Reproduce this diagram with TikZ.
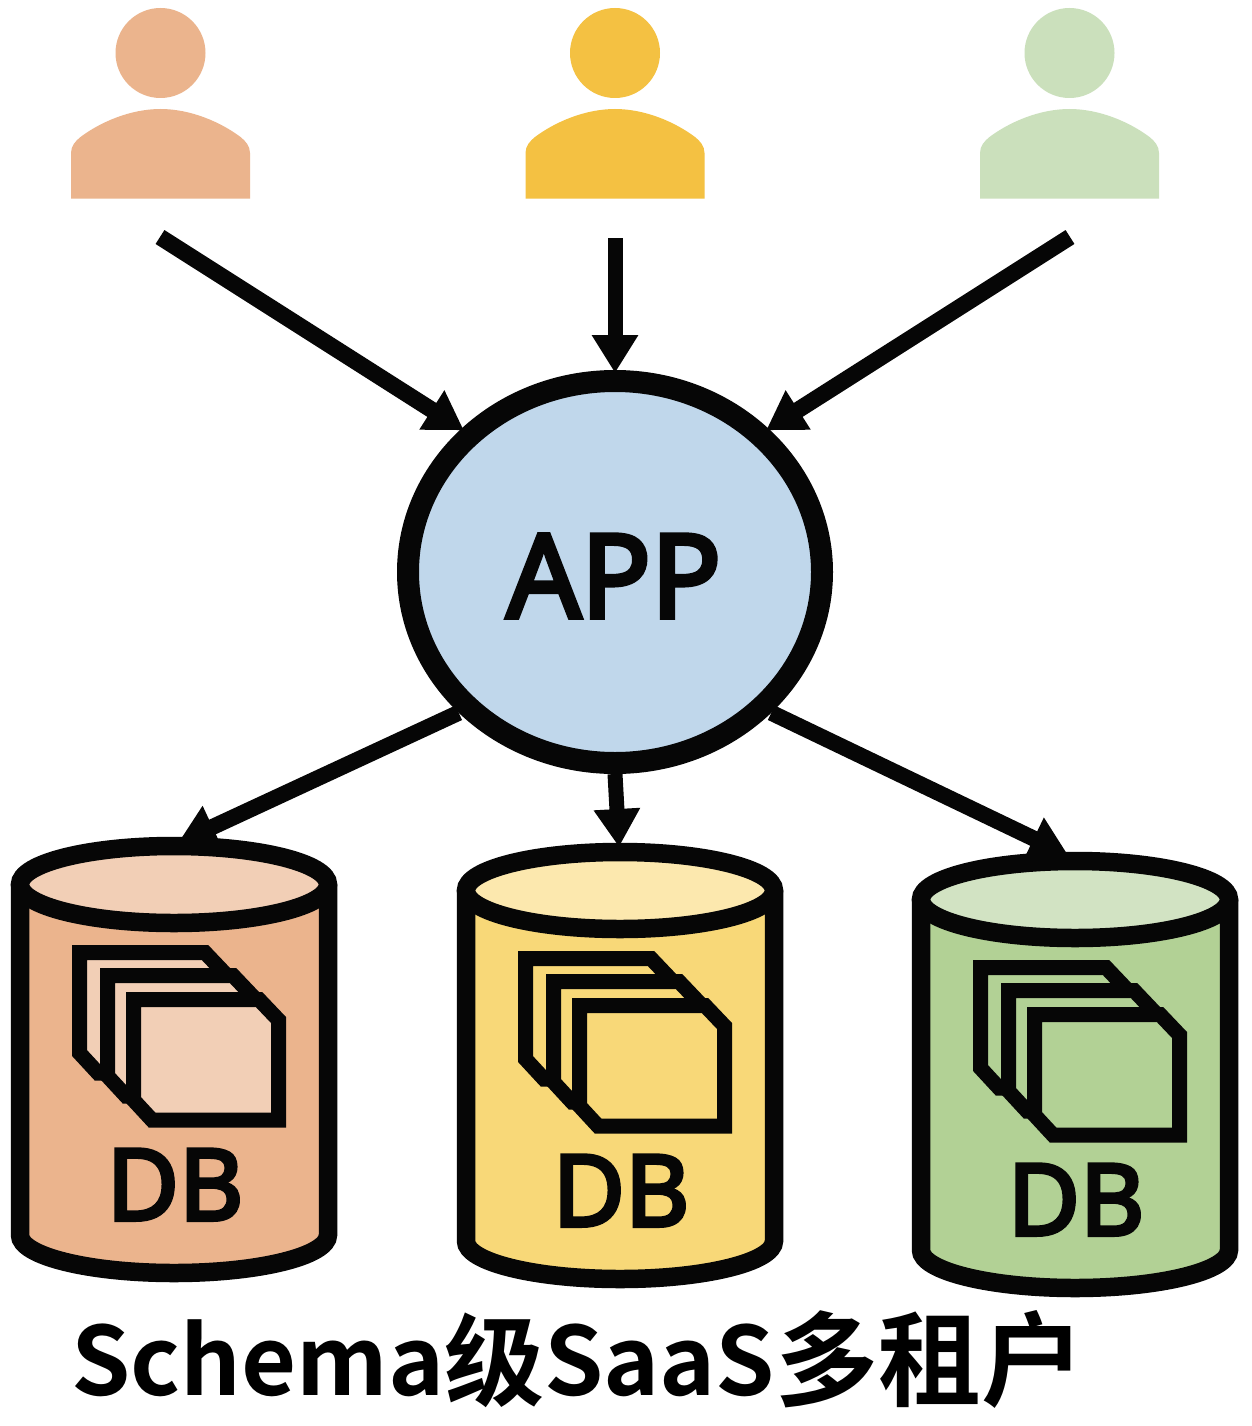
\documentclass[tikz,border=0pt]{standalone}
\usepackage{fontspec}
\usetikzlibrary{arrows.meta,shapes.geometric}
\newfontfamily\labelfont[FakeBold=4]{Noto Sans}
\newfontfamily\titlefont{Noto Sans CJK SC}[BoldFont={* Bold}]
\definecolor{inkblack}{HTML}{060606}
\definecolor{peach}{HTML}{EBB48D}
\definecolor{peachlt}{HTML}{F2CFB6}
\definecolor{gold}{HTML}{F4C142}
\definecolor{yellowbody}{HTML}{F8D878}
\definecolor{yellowlt}{HTML}{FCE8AE}
\definecolor{sage}{HTML}{CBE0BC}
\definecolor{greenbody}{HTML}{B2D195}
\definecolor{greenlt}{HTML}{D2E3C3}
\definecolor{appblue}{HTML}{C0D7EB}
\tikzset{
  flow/.style={draw=inkblack,line width=15pt,-{Triangle[length=38pt,width=44pt]},line join=miter},
  flowin/.style={flow,shorten >=-3pt},
  flowdiag/.style={flowin,line width=16.5pt},
  flowout/.style={flow,line width=16pt},
  cylline/.style={draw=inkblack,line width=18.5pt},
  pageline/.style={draw=inkblack,line width=15pt,line join=miter,miter limit=10},
  dblabel/.style={anchor=base,inner sep=0pt,text=inkblack,font=\labelfont\fontsize{99}{110}\selectfont},
}
\newcommand{\personicon}[3]{%
  \begin{scope}[shift={(#2,0)}]
    \node[circle,fill=#3,inner sep=0pt,minimum size=90pt] (#1) at (0,53) {};
    \fill[#3] (-89.5,198.5) -- (-89.5,153) .. controls (-89.5,146) and (-85,141) .. (-80,137)
      .. controls (-60,122) and (-30,109) .. (0,109)
      .. controls (30,109) and (60,122) .. (80,137)
      .. controls (85,141) and (89.5,146) .. (89.5,153) -- (89.5,198.5) -- cycle;
  \end{scope}}
\newcommand{\pagesheet}[3]{%
  \draw[pageline,fill=#3,shift={(#1,#2)}] (133.5,999.5) -- (259,999.5) -- (278.5,1020) -- (278.5,1120)
    -- (152,1120) -- (133.5,1100) -- cycle;}
\newcommand{\dbcyl}[6]{%
  \begin{scope}[shift={(#2,#3)}]
    \path[cylline,fill=#4] (20,884.5) -- (20,1235)
      arc[start angle=180,end angle=360,x radius=154pt,y radius=38pt] -- (328,884.5);
    \draw[cylline,fill=#5] (174,884.5) ellipse[x radius=154pt,y radius=38.5pt];
    \pagesheet{-54}{-47}{#6}
    \pagesheet{-26}{-24}{#6}
    \pagesheet{0}{0}{#6}
    \node[dblabel] (#1) at (175,1220) {DB};
  \end{scope}}
\begin{document}
\begin{tikzpicture}[x=1pt,y=-1pt]
\useasboundingbox (0,0) rectangle (1252,1426);
\fill[white] (0,0) rectangle (1252,1426);

\personicon{userA}{160.5}{peach}
\personicon{userB}{615}{gold}
\personicon{userC}{1069.5}{sage}

\dbcyl{dbA}{0}{0}{peach}{peachlt}{peachlt}
\dbcyl{dbB}{446}{6}{yellowbody}{yellowlt}{yellowbody}
\dbcyl{dbC}{901}{15}{greenbody}{greenlt}{greenbody}

\node[ellipse,draw=inkblack,line width=22pt,fill=appblue,inner sep=0pt,outer sep=11pt,
  minimum width=414pt,minimum height=382pt] (app) at (615,572) {};
\node[anchor=base,inner sep=0pt,text=inkblack,font=\labelfont\fontsize{116}{120}\selectfont]
  (applabel) at (614,617.5) {APP};

\coordinate (startA) at (160,237);
\coordinate (startB) at (615,238);
\coordinate (startC) at (1070,237);
\coordinate (topA) at (178,843);
\coordinate (topB) at (619,847);
\coordinate (topC) at (1068,855);

\draw[flowdiag] (startA) -- (app.137);
\draw[flowin] (startB) -- (app.north);
\draw[flowdiag] (startC) -- (app.43);
\draw[flowout] (app.222) -- (topA);
\draw[flow] (app.south) -- (topB);
\draw[flowout] (app.318) -- (topC);

\node[anchor=base west,inner sep=0pt,text=black,font=\titlefont\bfseries\fontsize{95}{100}\selectfont]
  (title) at (71,1395) {Schema{\fontsize{100}{100}\selectfont\raisebox{-3pt}{级}}SaaS{\fontsize{103}{100}\selectfont\raisebox{-3pt}{多租户}}};
\end{tikzpicture}
\end{document}
